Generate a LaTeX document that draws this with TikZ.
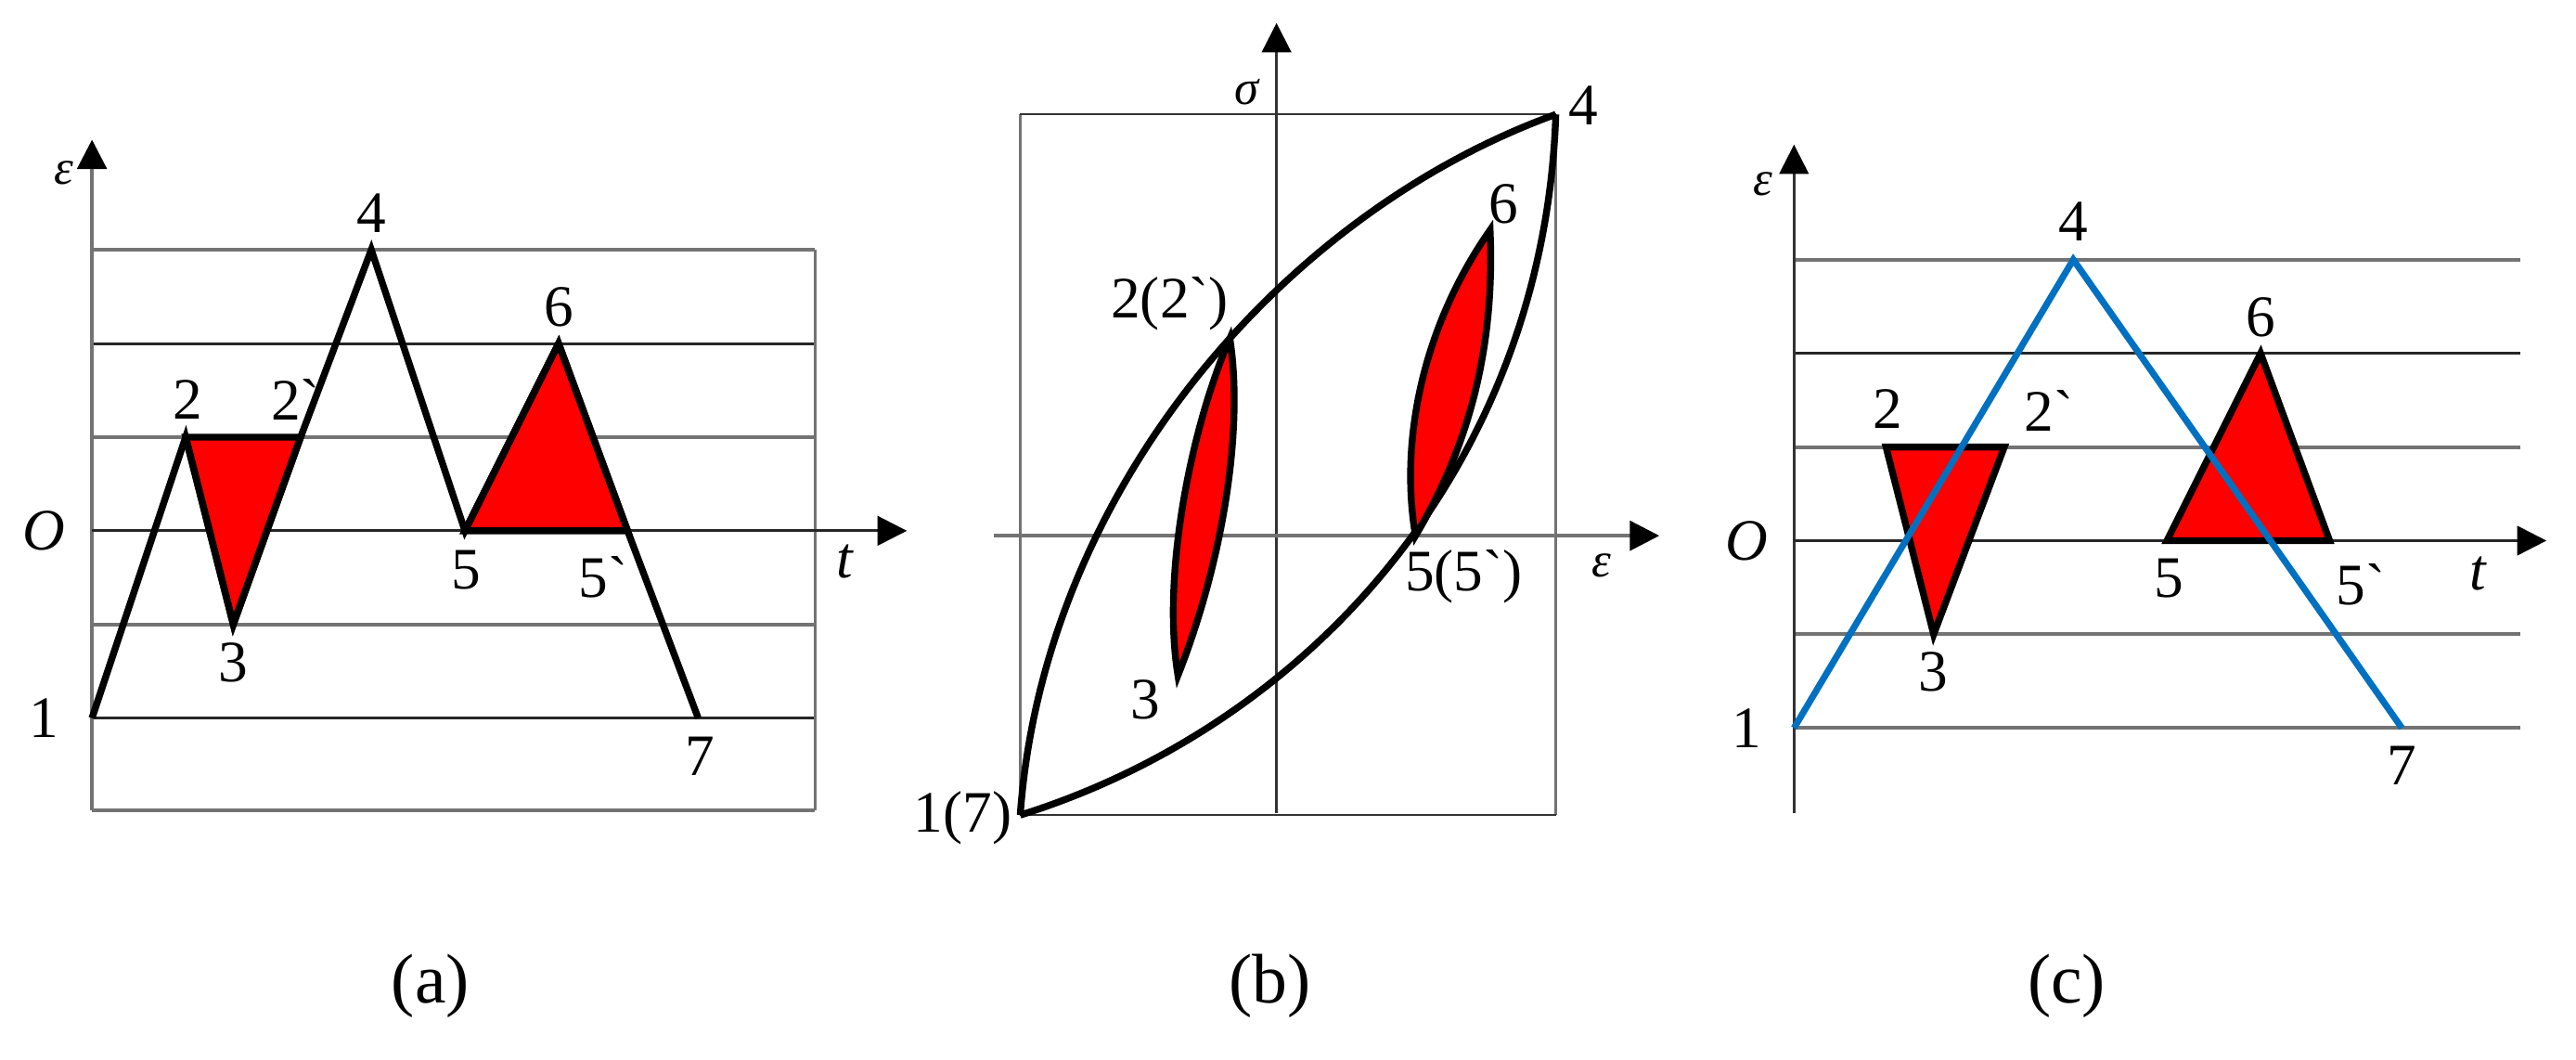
\documentclass[tikz,border=0pt]{standalone}
\usepackage{fontspec}
\setmainfont{Liberation Serif}[Ligatures=TeXOff]
\usetikzlibrary{arrows.meta}
\definecolor{lineblue}{HTML}{0070C0}
\tikzset{
  glab/.style={inner sep=0pt,font=\fontsize{18}{18}\selectfont},
  ilab/.style={inner sep=0pt,font=\fontsize{18}{18}\selectfont\itshape},
  sym/.style={inner sep=0pt,font=\fontsize{15}{15}\selectfont\itshape},
  captext/.style={inner sep=0pt,font=\fontsize{21.5}{22}\selectfont},
  gline/.style={draw=black!55,line width=1.15pt},
  bline/.style={draw=black!85,line width=0.85pt},
  thinline/.style={draw=black!80,line width=0.7pt},
  axisarrow/.style={-{Triangle[length=9pt,width=9pt,color=black]}},
  loadpath/.style={draw=black,line width=2.1pt,line join=miter},
  redloop/.style={draw=black,line width=2.1pt,fill=red,line join=miter},
  bluepath/.style={draw=lineblue,line width=2pt},
  bigcurve/.style={draw=black,line width=2.1pt}
}
\begin{document}
\begin{tikzpicture}[x=0.017704cm,y=-0.017704cm]
\useasboundingbox (0,0) rectangle (1568,644.5);
% --- panel (a)
\coordinate (a0) at (56,493);
\coordinate (atop) at (56,85);
\coordinate (aO) at (56,323);
\coordinate (aR) at (552,323);
\foreach \y/\s in {152/gline,209/bline,266/gline,380/gline,437/bline,493/gline}
  \draw[\s] (56,\y) -- (496,\y);
\draw[gline,line width=0.9pt] (496,152) -- (496,493);
\draw[gline,axisarrow] (a0) -- (atop);
\draw[bline,axisarrow] (aO) -- (aR);
\coordinate (a1) at (56,437);
\coordinate (a2) at (113,266);
\coordinate (a3) at (142,380);
\coordinate (a2p) at (183,266);
\coordinate (a4) at (226,152);
\coordinate (a5) at (283,323);
\coordinate (a6) at (340,209);
\coordinate (a5p) at (382,323);
\coordinate (a7) at (425,437);
\draw[redloop] (a2) -- (a3) -- (a2p) -- cycle;
\draw[redloop] (a5) -- (a6) -- (a5p) -- cycle;
\draw[loadpath] (a1) -- (a2) -- (a3) -- (a2p) -- (a4) -- (a5) -- (a6) -- (a5p) -- (a7);
\node[sym] (la) at (39,105) {ε};
\node[glab] (l4a) at (226,130) {4};
\node[glab] (l2a) at (114,243) {2};
\node[glab] (l2pa) at (180,243) {2`};
\node[glab] (l6a) at (340,187) {6};
\node[ilab] (lOa) at (27,323) {O};
\node[glab] (l5a) at (284,347) {5};
\node[glab] (l5pa) at (367,351) {5`};
\node[ilab] (lta) at (514,342) {t};
\node[glab] (l1a) at (27,437) {1};
\node[glab] (l3a) at (142,403) {3};
\node[glab] (l7a) at (426,460) {7};
\node[captext] (capa) at (262,600) {(a)};
% --- panel (b)
\coordinate (bB) at (777,495);
\coordinate (bT) at (777,14);
\coordinate (bL) at (605,326);
\coordinate (bR) at (1010,326);
\draw[gline,line width=0.9pt] (621,69.6) -- (621,496);
\draw[gline,line width=0.9pt] (947,69.6) -- (947,496);
\draw[thinline] (621,69.6) -- (947,69.6);
\draw[thinline] (621,496) -- (947,496);
\draw[thinline,axisarrow] (bB) -- (bT);
\draw[gline,axisarrow] (bL) -- (bR);
\coordinate (b1) at (621,496);
\coordinate (b4) at (947,69.6);
\coordinate (b2) at (748.6,206);
\coordinate (b3) at (717,411);
\coordinate (b5) at (861.6,326);
\coordinate (b6) at (907,140);
\draw[bigcurve] (b1) .. controls (635,300) and (780,130) .. (b4);
\draw[bigcurve] (b1) .. controls (800,440) and (940,280) .. (b4);
\draw[redloop] (b2) .. controls (725,260) and (707,350) .. (b3) .. controls (745,340) and (757,260) .. (b2) -- cycle;
\draw[redloop] (b5) .. controls (852,270) and (865,200) .. (b6) .. controls (910,210) and (895,270) .. (b5) -- cycle;
\node[sym] (lb1) at (759,56) {σ};
\node[glab] (l4b) at (964,64) {4};
\node[glab] (l6b) at (915,124) {6};
\node[glab] (l2b) at (712,185) {2(2`)};
\node[glab] (l3b) at (697,426) {3};
\node[glab] (l5b) at (891,351) {5(5`)};
\node[sym] (lb2) at (975,344) {ε};
\node[glab] (l1b) at (586,498) {1(7)};
\node[captext] (capb) at (773,600) {(b)};
% --- panel (c)
\coordinate (c0) at (1092,495);
\coordinate (ctop) at (1092,88);
\coordinate (cO) at (1092,329);
\coordinate (cR) at (1550,329);
\foreach \y/\s in {158/gline,215/bline,272/gline,386/gline,443/gline}
  \draw[\s] (1092,\y) -- (1534,\y);
\draw[thinline,axisarrow] (c0) -- (ctop);
\draw[bline,axisarrow] (cO) -- (cR);
\coordinate (c1) at (1092,443);
\coordinate (c2) at (1148,272);
\coordinate (c3) at (1177,386);
\coordinate (c2p) at (1220,272);
\coordinate (c4) at (1262,158);
\coordinate (c5) at (1319,329);
\coordinate (c6) at (1376,215);
\coordinate (c5p) at (1418,329);
\coordinate (c7) at (1462,443);
\draw[redloop] (c2) -- (c3) -- (c2p) -- cycle;
\draw[redloop] (c5) -- (c6) -- (c5p) -- cycle;
\draw[bluepath] (c1) -- (c4) -- (c7);
\node[sym] (lc) at (1073,112) {ε};
\node[glab] (l4c) at (1262,135) {4};
\node[glab] (l2c) at (1149,249) {2};
\node[glab] (l2pc) at (1247,250) {2`};
\node[glab] (l6c) at (1376,193) {6};
\node[ilab] (lOc) at (1063,329) {O};
\node[glab] (l5c) at (1320,352) {5};
\node[glab] (l5pc) at (1437,356) {5`};
\node[ilab] (ltc) at (1508,349) {t};
\node[glab] (l1c) at (1063,443) {1};
\node[glab] (l3c) at (1177,409) {3};
\node[glab] (l7c) at (1462,466) {7};
\node[captext] (capc) at (1258,600) {(c)};
\end{tikzpicture}
\end{document}
